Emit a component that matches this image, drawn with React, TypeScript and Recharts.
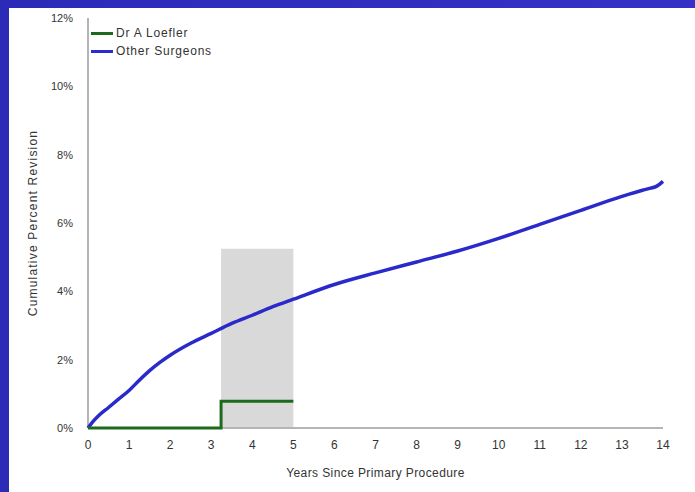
import React from "react";
import {
  LineChart,
  Line,
  XAxis,
  YAxis,
  ReferenceArea,
} from "recharts";

// Other Surgeons cumulative revision curve (years, percent)
const otherYears = [0, 0.1, 0.25, 0.5, 0.75, 1, 1.25, 1.5, 1.75, 2, 2.5, 3, 3.5, 4, 4.5, 5, 6, 7, 8, 9, 10, 11, 12, 13, 13.5, 13.7, 13.85, 14];
const otherValues = [0, 0.16, 0.35, 0.6, 0.85, 1.1, 1.4, 1.68, 1.92, 2.13, 2.48, 2.77, 3.06, 3.3, 3.55, 3.77, 4.2, 4.54, 4.86, 5.18, 5.55, 5.96, 6.37, 6.78, 6.96, 7.02, 7.08, 7.22];

// Dr A Loefler curve
const loeflerYears = [0, 3.24, 5];
const loeflerValues = [0, 0.78, 0.78];

// follow-up window shading
const shadeFrom = 3.24;
const shadeTo = 5;
const shadeTop = 5.25;

const xTicks = [0, 1, 2, 3, 4, 5, 6, 7, 8, 9, 10, 11, 12, 13, 14];
const yTicks = [0, 2, 4, 6, 8, 10, 12];

const otherData = otherYears.map((x, i) => ({ x, y: otherValues[i] }));
const loeflerData = loeflerYears.map((x, i) => ({ x, y: loeflerValues[i] }));

const legendItems = [
  { name: "Dr A Loefler", color: "#1d6a1d" },
  { name: "Other Surgeons", color: "#2b2bcf" },
];

const font = "'Liberation Sans', Arial, sans-serif";

function LegendBox() {
  return (
    <div style={{ position: "absolute", left: 91, top: 24, fontFamily: font, fontSize: 12, letterSpacing: 0.8, color: "#333" }}>
      {legendItems.map((it) => (
        <div key={it.name} style={{ display: "flex", alignItems: "center", height: 18 }}>
          <span style={{ display: "inline-block", width: 22, height: 3, background: it.color, marginRight: 3 }} />
          <span>{it.name}</span>
        </div>
      ))}
    </div>
  );
}

export default function App() {
  return (
    <div
      style={{
        position: "absolute",
        left: 0,
        top: 0,
        width: 695,
        height: 492,
        background: "linear-gradient(90deg, #2b2bb8 0%, #3631c6 100%)",
        overflow: "hidden",
      }}
    >
      <div style={{ position: "absolute", left: 9, top: 8, width: 686, height: 484, background: "#fff" }} />
      <div style={{ position: "absolute", left: 0, top: 0 }}>
        <LineChart width={695} height={492} margin={{ top: 18, right: 32, bottom: 34, left: 0 }}>
          <XAxis
            type="number"
            dataKey="x"
            domain={[0, 14]}
            ticks={xTicks}
            allowDuplicatedCategory={false}
            stroke="#b5b5b5"
            strokeWidth={2}
            tickLine={false}
            tickMargin={6}
            height={30}
            tick={{ fill: "#333", fontSize: 12, fontFamily: font }}
            label={{
              value: "Years Since Primary Procedure",
              position: "insideBottom",
              offset: -19,
              style: { fill: "#333", fontSize: 12, letterSpacing: 0.4, fontFamily: font },
            }}
          />
          <YAxis
            type="number"
            dataKey="y"
            domain={[0, 12]}
            ticks={yTicks}
            width={88}
            stroke="#b5b5b5"
            strokeWidth={2}
            tickLine={false}
            tickMargin={9}
            tickFormatter={(v) => `${v}%`}
            tick={{ fill: "#333", fontSize: 11, fontFamily: font }}
            label={{
              value: "Cumulative Percent Revision",
              angle: -90,
              position: "insideLeft",
              offset: 33,
              style: { textAnchor: "middle", fill: "#333", fontSize: 12, letterSpacing: 1.2, fontFamily: font },
            }}
          />
          <ReferenceArea x1={shadeFrom} x2={shadeTo} y1={0} y2={shadeTop} fill="#d9d9d9" fillOpacity={1} stroke="none" />
          <Line
            data={otherData}
            dataKey="y"
            name="Other Surgeons"
            type="monotone"
            stroke="#2a2acb"
            strokeWidth={3.5}
            dot={false}
            zIndex={600}
            isAnimationActive={false}
          />
          <Line
            data={loeflerData}
            dataKey="y"
            name="Dr A Loefler"
            type="stepAfter"
            stroke="#1d6a1d"
            strokeWidth={3}
            dot={false}
            zIndex={600}
            isAnimationActive={false}
          />
        </LineChart>
      </div>
      <LegendBox />
    </div>
  );
}
